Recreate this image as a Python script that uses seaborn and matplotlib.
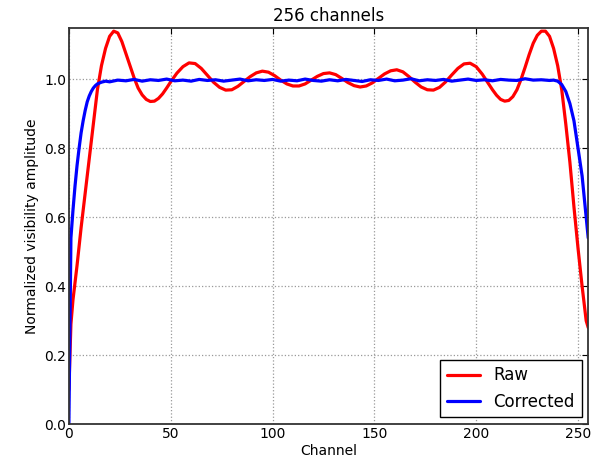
import numpy as np
import matplotlib
matplotlib.use("Agg")
import matplotlib.pyplot as plt
import seaborn as sns

# -----------------------------
# Data
# -----------------------------
raw_channel = [0, 1, 2, 4, 6, 8, 10, 12, 14, 16, 18, 20, 22, 24, 26, 28, 30, 32, 34, 36,
               38, 40, 42, 44, 46, 48, 50, 53, 56, 59, 62, 65, 68, 71, 74, 77, 80, 83, 86,
               89, 92, 95, 98, 101, 104, 107, 110, 113, 116, 119, 122, 125, 128, 131, 134,
               137, 140, 143, 146, 149, 152, 155, 158, 161, 164, 167, 170, 173, 176, 179,
               182, 185, 188, 191, 194, 197, 200, 203, 206, 208, 210, 212, 214, 216, 218,
               220, 222, 224, 226, 228, 230, 232, 234, 236, 238, 240, 242, 244, 246, 248,
               250, 252, 254, 255]
raw_amp = [0.10, 0.29, 0.36, 0.46, 0.57, 0.67, 0.77, 0.87, 0.97, 1.04, 1.09, 1.125, 1.14,
           1.135, 1.11, 1.075, 1.04, 1.005, 0.975, 0.955, 0.942, 0.936, 0.937, 0.945, 0.958,
           0.975, 0.993, 1.018, 1.037, 1.048, 1.046, 1.032, 1.012, 0.992, 0.977, 0.969, 0.970,
           0.980, 0.994, 1.008, 1.019, 1.024, 1.021, 1.011, 0.998, 0.987, 0.981, 0.981, 0.987,
           0.998, 1.009, 1.017, 1.019, 1.014, 1.003, 0.991, 0.982, 0.978, 0.981, 0.990, 1.003,
           1.016, 1.025, 1.028, 1.022, 1.008, 0.992, 0.978, 0.970, 0.969, 0.977, 0.993, 1.013,
           1.032, 1.045, 1.047, 1.037, 1.015, 0.988, 0.970, 0.954, 0.942, 0.937, 0.939, 0.950,
           0.970, 1.000, 1.035, 1.072, 1.105, 1.128, 1.140, 1.140, 1.125, 1.09, 1.04, 0.97,
           0.87, 0.76, 0.63, 0.51, 0.40, 0.30, 0.28]

cor_channel = [0, 1, 2, 3, 4, 5, 6, 7, 8, 9, 10, 11, 12, 13, 14, 16, 18,
               20, 24, 28, 32, 36, 40, 44, 48, 52, 56, 60, 64, 68, 72, 76, 80, 84, 88,
               92, 96, 100, 104, 108, 112, 116, 120, 124, 128, 132, 136, 140, 144, 148,
               152, 156, 160, 164, 168, 172, 176, 180, 184, 188, 192, 196, 200, 204, 208,
               212, 216, 220, 224, 228, 232, 236,
               238, 240, 242, 244, 246, 248, 250, 252, 254, 255]
cor_amp = [0.0, 0.54, 0.62, 0.69, 0.75, 0.80, 0.845, 0.88, 0.91, 0.935, 0.952, 0.965,
           0.975, 0.982, 0.987, 0.992, 0.995,
           0.993, 0.998, 0.996, 1.000, 0.995, 0.999, 0.997, 1.001, 0.996, 0.998, 0.995,
           1.000, 0.997, 0.999, 0.995, 0.998, 1.001, 0.996, 0.999, 0.997, 1.000, 0.995,
           0.998, 0.996, 1.001, 0.997, 0.995, 0.999, 0.996, 1.000, 0.997, 0.994, 0.999,
           0.997, 1.001, 0.996, 0.998, 1.002, 0.996, 0.999, 0.997, 1.000, 0.995, 0.998,
           1.001, 0.997, 0.999, 0.996, 1.000, 0.998, 0.997, 1.002, 0.998, 0.999, 0.997,
           0.998, 0.995, 0.985, 0.965, 0.93, 0.88, 0.80, 0.72, 0.60, 0.54]

# -----------------------------
# Plot
# -----------------------------
sns.set_style("white")
plt.rcParams["font.family"] = ["DejaVu Sans"]
plt.rcParams["text.color"] = "black"
plt.rcParams["axes.labelcolor"] = "black"
plt.rcParams["xtick.color"] = "black"
plt.rcParams["ytick.color"] = "black"

fig = plt.figure(figsize=(5.99, 4.62), dpi=100)
ax = fig.add_axes([0.115, 0.082, 0.867, 0.858])

sns.lineplot(x=raw_channel, y=raw_amp, color="red", lw=2.3, label="Raw", ax=ax)
sns.lineplot(x=cor_channel, y=cor_amp, color="blue", lw=2.3, label="Corrected", ax=ax)

ax.set_xlim(0, 255)
ax.set_ylim(0, 1.15)
ax.set_xticks([0, 50, 100, 150, 200, 250])
ax.set_yticks([0.0, 0.2, 0.4, 0.6, 0.8, 1.0])
ax.set_yticklabels(["0.0", "0.2", "0.4", "0.6", "0.8", "1.0"])
ax.grid(True, linestyle=":", color="0.6", lw=0.9)
ax.tick_params(direction="in", length=4, top=True, right=True, labelsize=10, pad=2)
for s in ax.spines.values():
    s.set_color("#333333")
    s.set_linewidth(1.3)

ax.set_xlabel("Channel", fontsize=10, labelpad=2)
ax.set_ylabel("Normalized visibility amplitude", fontsize=10, labelpad=4)
ax.set_title("256 channels", fontsize=12, pad=5)

leg = ax.legend(loc="lower right", fontsize=12, fancybox=False, framealpha=1,
                edgecolor="black", handlelength=2.0, borderaxespad=0.4)
leg.get_frame().set_linewidth(1.0)

plt.savefig("out.png", dpi=100)
plt.close()
